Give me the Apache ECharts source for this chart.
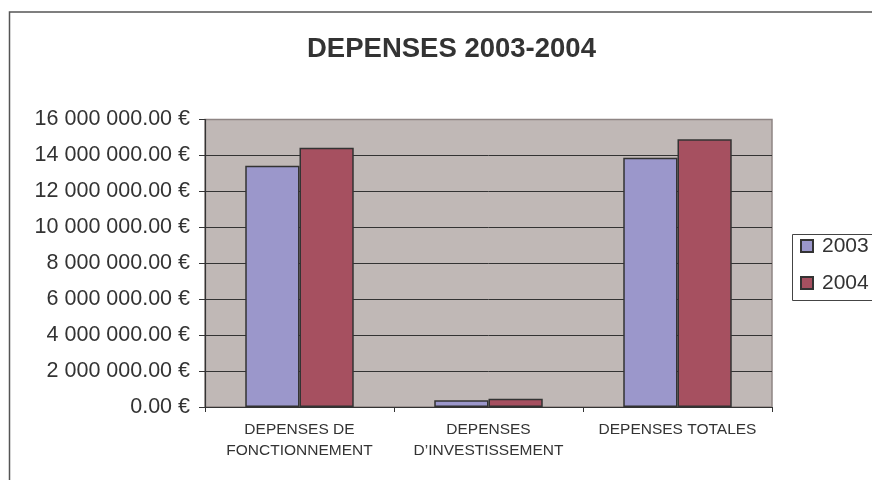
<!DOCTYPE html>
<html>
<head>
<meta charset="utf-8">
<script src="https://cdn.jsdelivr.net/npm/echarts@6/dist/echarts.min.js"></script>
<style>
html,body{margin:0;padding:0;background:#fff;}
#c{width:872px;height:480px;}
</style>
</head>
<body>
<div id="c"></div>
<script>
var categories = ['DEPENSES DE\nFONCTIONNEMENT', 'DEPENSES\nD\u2019INVESTISSEMENT', 'DEPENSES TOTALES'];
var seriesNames = ['2003', '2004'];
var values2003 = [13430000, 370000, 13870000];
var values2004 = [14430000, 460000, 14900000];
var yTicks = {min: 0, max: 16000000, interval: 2000000};

function fmt(v) {
  var s = Math.round(v).toString().replace(/\B(?=(\d{3})+(?!\d))/g, ' ');
  return s + '.00 \u20ac';
}

var chart = echarts.init(document.getElementById('c'));
var font = 'Liberation Sans, Arial, sans-serif';
chart.setOption({
  animation: false,
  backgroundColor: '#fff',
  title: {
    text: 'DEPENSES 2003-2004',
    left: 302, top: 30,
    textStyle: {fontFamily: font, fontSize: 27.5, fontWeight: 'bold', color: '#333'}
  },
  graphic: [
    {type: 'rect', shape: {x: 9.5, y: 12, width: 1000, height: 600},
     style: {fill: 'none', stroke: '#555', lineWidth: 1.5}, z: 100},
    {type: 'rect', shape: {x: 792.5, y: 234.5, width: 90, height: 66},
     style: {fill: '#fff', stroke: '#444', lineWidth: 1}, z: 1}
  ],
  legend: {
    orient: 'vertical', left: 800, top: 235, itemWidth: 12, itemHeight: 12, itemGap: 15,
    padding: 0, z: 10,
    icon: 'rect',
    textStyle: {fontFamily: font, fontSize: 21, color: '#333', padding: [0, 0, 0, 4], lineHeight: 22},
    data: seriesNames
  },
  grid: {
    left: 205, right: 100, top: 119.5, bottom: 73,
    show: true, backgroundColor: '#C0B8B6', borderColor: '#8E8584', borderWidth: 1.5
  },
  xAxis: {
    type: 'category', data: categories,
    axisLine: {lineStyle: {color: '#333', width: 1.2}},
    axisTick: {show: true, length: 5, lineStyle: {color: '#333'}},
    axisLabel: {interval: 0, fontFamily: font, fontSize: 15.5, color: '#333', lineHeight: 21, margin: 12}
  },
  yAxis: {
    type: 'value', min: yTicks.min, max: yTicks.max, interval: yTicks.interval,
    axisLine: {show: true, lineStyle: {color: '#333', width: 1.2}},
    axisTick: {show: true, length: 6, lineStyle: {color: '#333'}},
    axisLabel: {fontFamily: font, fontSize: 21.5, color: '#333', margin: 15, formatter: fmt},
    splitLine: {show: true, showMaxLine: false, lineStyle: {color: '#333', width: 1}}
  },
  series: [
    {name: seriesNames[0], type: 'bar', data: values2003, barGap: '0%', barCategoryGap: '42.6%',
     itemStyle: {color: '#9B97CB', borderColor: '#333', borderWidth: 1.5}},
    {name: seriesNames[1], type: 'bar', data: values2004, barGap: '0%', barCategoryGap: '42.6%',
     itemStyle: {color: '#A65060', borderColor: '#333', borderWidth: 1.5}}
  ]
});
</script>
</body>
</html>
